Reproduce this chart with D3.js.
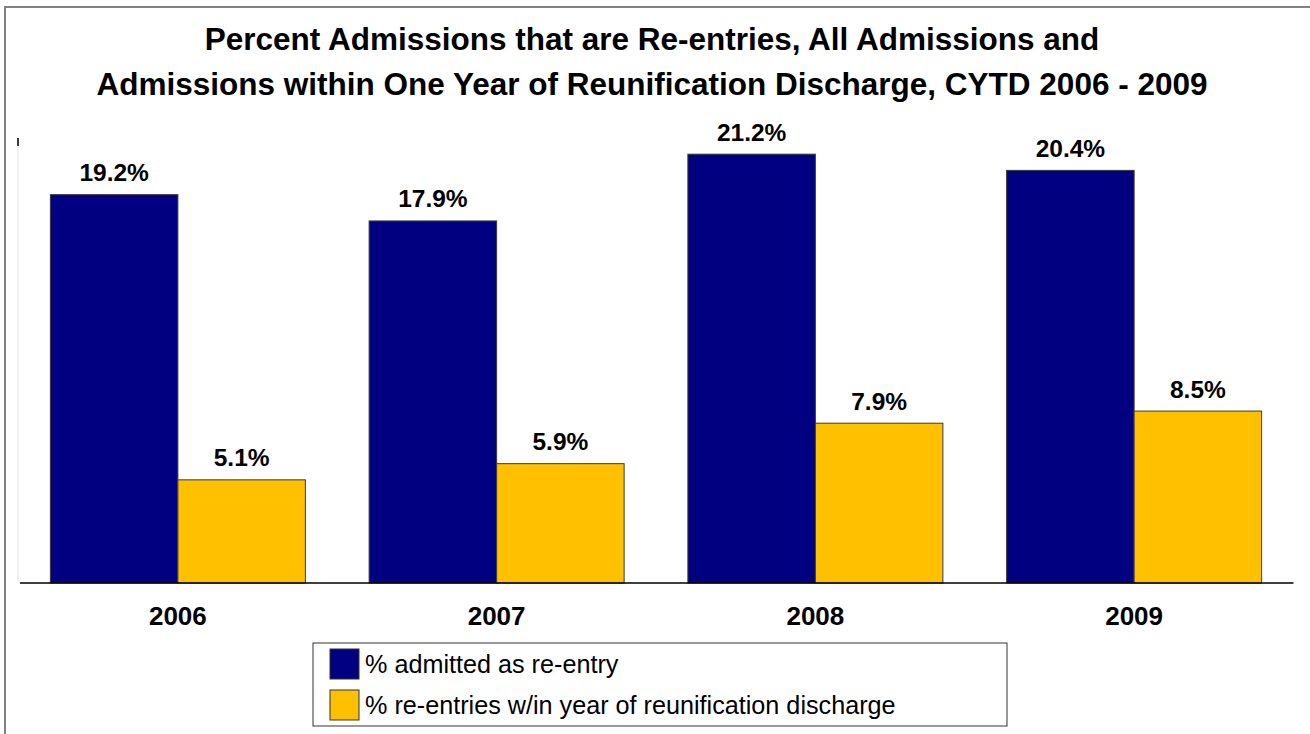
<!DOCTYPE html>
<html>
<head>
<meta charset="utf-8">
<script src="https://cdn.jsdelivr.net/npm/d3@7/dist/d3.min.js"></script>
<style>
  html, body { margin: 0; padding: 0; background: #fff; }
  svg { display: block; }
  text { font-family: "Liberation Sans", Arial, sans-serif; }
</style>
</head>
<body>
<svg id="chart" width="1310" height="734"></svg>
<script>
const categories = ["2006", "2007", "2008", "2009"];
const seriesNames = ["% admitted as re-entry", "% re-entries w/in year of reunification discharge"];
const admittedReentry = [19.2, 17.9, 21.2, 20.4];
const reentriesWithinYear = [5.1, 5.9, 7.9, 8.5];
const titleLines = [
  "Percent Admissions that are Re-entries, All Admissions and",
  "Admissions within One Year of Reunification Discharge, CYTD 2006 - 2009"
];
const colors = ["#000080", "#FFC000"];

const svg = d3.select("#chart");
const W = 1310, H = 734;

// outer frame
svg.append("rect")
  .attr("x", 5).attr("y", 7).attr("width", W).attr("height", H)
  .attr("fill", "none").attr("stroke", "#808080").attr("stroke-width", 2);

// title
svg.append("g").selectAll("text").data(titleLines).join("text")
  .attr("x", 652).attr("y", (d, i) => 49.5 + i * 45.5)
  .attr("text-anchor", "middle")
  .attr("font-weight", "bold").attr("font-size", 31.5)
  .attr("fill", "#000")
  .text(d => d);

const x0 = d3.scaleBand().domain(categories).range([18.5, 1293.5]).paddingInner(0).paddingOuter(0);
const x1 = d3.scaleBand().domain([0, 1]).range([x0.bandwidth() * 0.1, x0.bandwidth() * 0.9]).padding(0);
const y = d3.scaleLinear().domain([0, 22]).range([583, 138]);

// y axis (faint)
svg.append("line")
  .attr("x1", 18).attr("x2", 18).attr("y1", y(22)).attr("y2", y(0))
  .attr("stroke", "#e4e4e4").attr("stroke-width", 1);
svg.append("line")
  .attr("x1", 18).attr("x2", 18).attr("y1", y(22)).attr("y2", y(22) + 8)
  .attr("stroke", "#000").attr("stroke-width", 1.5);

const data = categories.map((c, i) => ({ cat: c, vals: [admittedReentry[i], reentriesWithinYear[i]] }));

const groups = svg.append("g").selectAll("g").data(data).join("g")
  .attr("transform", d => `translate(${x0(d.cat)},0)`);

groups.selectAll("rect").data(d => d.vals.map((v, s) => ({ v, s }))).join("rect")
  .attr("x", d => x1(d.s))
  .attr("width", x1.bandwidth())
  .attr("y", d => y(d.v))
  .attr("height", d => y(0) - y(d.v))
  .attr("fill", d => colors[d.s])
  .attr("stroke", "#3a3a3a").attr("stroke-width", 1);

groups.selectAll("text.val").data(d => d.vals.map((v, s) => ({ v, s }))).join("text")
  .attr("class", "val")
  .attr("x", d => x1(d.s) + x1.bandwidth() / 2)
  .attr("y", d => y(d.v) - 13.5)
  .attr("text-anchor", "middle")
  .attr("font-weight", "bold").attr("font-size", 24.5)
  .text(d => d.v.toFixed(1) + "%");

// x axis baseline
const xAxis = d3.axisBottom(x0).tickSize(0).tickPadding(0);
const gx = svg.append("g").attr("transform", `translate(0,${y(0)})`).call(xAxis);
gx.select(".domain").attr("d", `M20,0H1293.5`).attr("stroke", "#000").attr("stroke-width", 1.5);
gx.selectAll(".tick text")
  .attr("dy", 0).attr("y", 42)
  .attr("font-family", "\"Liberation Sans\", Arial, sans-serif")
  .attr("font-weight", "bold").attr("font-size", 26).attr("fill", "#000");

// legend
const lg = svg.append("g");
lg.append("rect")
  .attr("x", 313).attr("y", 643).attr("width", 694).attr("height", 83)
  .attr("fill", "#fff").attr("stroke", "#333").attr("stroke-width", 1);
const items = lg.selectAll("g").data(seriesNames).join("g")
  .attr("transform", (d, i) => `translate(0,${i * 41})`);
items.append("rect")
  .attr("x", 330).attr("y", 649).attr("width", 29).attr("height", 30)
  .attr("fill", (d, i) => colors[i]).attr("stroke", "#333").attr("stroke-width", 1);
items.append("text")
  .attr("x", 365).attr("y", 673)
  .attr("font-size", 25.2).attr("fill", "#000")
  .text(d => d);
</script>
</body>
</html>
